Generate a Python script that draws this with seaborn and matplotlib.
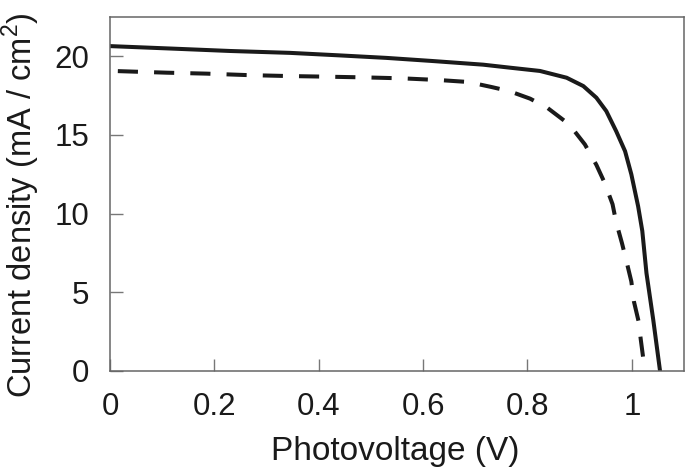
import matplotlib
matplotlib.use("Agg")
import matplotlib.pyplot as plt
import pandas as pd
import seaborn as sns

# J-V curves
voltage_solid = [0.0, 0.12, 0.23, 0.345, 0.44, 0.53, 0.619, 0.715, 0.766, 0.824,
                 0.875, 0.907, 0.932, 0.951, 0.97, 0.987, 0.999, 1.012, 1.02,
                 1.028, 1.041, 1.054]
current_solid = [20.65, 20.49, 20.34, 20.22, 20.06, 19.9, 19.7, 19.47, 19.28, 19.07,
                 18.64, 18.11, 17.37, 16.52, 15.24, 13.97, 12.5, 10.47, 8.9,
                 6.22, 3.25, 0.0]

voltage_dashed = [0.015, 0.109, 0.185, 0.261, 0.338, 0.41, 0.49, 0.561, 0.632, 0.686,
                  0.731, 0.765, 0.805, 0.838, 0.88, 0.91, 0.932, 0.948, 0.963,
                  0.97, 0.981, 0.989, 0.999, 1.004, 1.013, 1.017, 1.025]
current_dashed = [19.06, 18.96, 18.9, 18.81, 18.75, 18.71, 18.66, 18.6, 18.49, 18.37,
                  18.05, 17.79, 17.31, 16.73, 15.67, 14.4, 13.1, 11.95, 10.6,
                  9.45, 8.13, 7.07, 5.69, 4.41, 3.14, 2.02, 0.0]


def main():
    sns.set_style("white")
    plt.rcParams["font.family"] = ["Liberation Sans", "DejaVu Sans"]
    plt.rcParams["mathtext.fontset"] = "custom"
    plt.rcParams["mathtext.rm"] = "Liberation Sans"

    fig = plt.figure(figsize=(6.85, 4.67), dpi=100)
    ax = fig.add_axes([0.1606, 0.2056, 0.838, 0.758])

    solid = pd.DataFrame({"V": voltage_solid, "J": current_solid})
    dashed = pd.DataFrame({"V": voltage_dashed, "J": current_dashed})

    sns.lineplot(data=solid, x="V", y="J", ax=ax, color="#1a1a1a",
                 linewidth=2.9, sort=False)
    sns.lineplot(data=dashed, x="V", y="J", ax=ax, color="#1a1a1a",
                 linewidth=2.9, sort=False)
    ax.lines[-1].set_dashes((5, 4))
    for line in ax.lines:
        line.set_solid_joinstyle("round")
        line.set_dash_joinstyle("round")

    ax.set_xlim(0, 1.1)
    ax.set_ylim(0, 22.5)
    ax.set_xticks([0, 0.2, 0.4, 0.6, 0.8, 1.0])
    ax.set_xticklabels(["0", "0.2", "0.4", "0.6", "0.8", "1"])
    ax.set_yticks([0, 5, 10, 15, 20])

    for spine in ax.spines.values():
        spine.set_color("#666666")
        spine.set_linewidth(1.1)

    ax.tick_params(direction="in", length=9, width=1.0, color="#777777",
                   labelsize=22.5, labelcolor="#1a1a1a",
                   bottom=True, left=True, top=False, right=False)
    ax.tick_params(axis="x", pad=15)
    ax.tick_params(axis="y", pad=15)

    ax.set_xlabel("Photovoltage (V)", fontsize=24, color="#1a1a1a")
    ax.set_ylabel("Current density (mA / cm$^2$)", fontsize=23.5, color="#1a1a1a")
    ax.xaxis.set_label_coords(0.497, -0.184)
    ax.yaxis.set_label_coords(-0.118, 0.469)

    fig.savefig("out.png", dpi=100)
    plt.close(fig)


if __name__ == "__main__":
    main()
